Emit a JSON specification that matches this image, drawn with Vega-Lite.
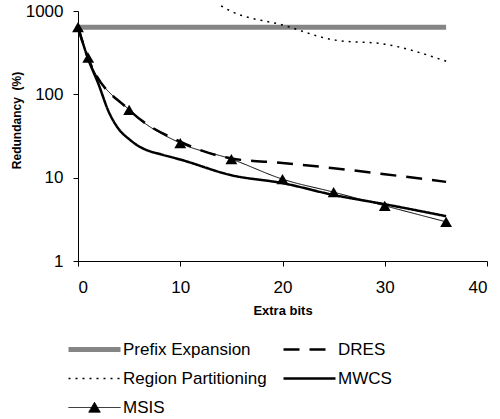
{
  "$schema": "https://vega.github.io/schema/vega-lite/v6.json",
  "autosize": {"type": "none"},
  "width": 409,
  "height": 250,
  "padding": {"left": 78, "top": 11, "right": 13, "bottom": 158},
  "background": "white",
  "data": {
    "values": [
      {"series": "Prefix Expansion", "x": 0, "y": 640},
      {"series": "Prefix Expansion", "x": 1, "y": 640},
      {"series": "Prefix Expansion", "x": 5, "y": 640},
      {"series": "Prefix Expansion", "x": 10, "y": 640},
      {"series": "Prefix Expansion", "x": 15, "y": 640},
      {"series": "Prefix Expansion", "x": 20, "y": 640},
      {"series": "Prefix Expansion", "x": 25, "y": 640},
      {"series": "Prefix Expansion", "x": 30, "y": 640},
      {"series": "Prefix Expansion", "x": 36, "y": 640},
      {"series": "Region Partitioning", "x": 14, "y": 1150},
      {"series": "Region Partitioning", "x": 15, "y": 990},
      {"series": "Region Partitioning", "x": 20, "y": 680},
      {"series": "Region Partitioning", "x": 25, "y": 450},
      {"series": "Region Partitioning", "x": 30, "y": 400},
      {"series": "Region Partitioning", "x": 36, "y": 250},
      {"series": "DRES", "x": 0, "y": 640},
      {"series": "DRES", "x": 1, "y": 270},
      {"series": "DRES", "x": 5, "y": 65},
      {"series": "DRES", "x": 10, "y": 27},
      {"series": "DRES", "x": 15, "y": 17},
      {"series": "DRES", "x": 20, "y": 15},
      {"series": "DRES", "x": 25, "y": 13},
      {"series": "DRES", "x": 30, "y": 11},
      {"series": "DRES", "x": 36, "y": 8.9},
      {"series": "MWCS", "x": 0, "y": 640},
      {"series": "MWCS", "x": 1, "y": 265},
      {"series": "MWCS", "x": 2, "y": 133},
      {"series": "MWCS", "x": 3, "y": 62},
      {"series": "MWCS", "x": 4, "y": 38},
      {"series": "MWCS", "x": 5, "y": 29},
      {"series": "MWCS", "x": 6, "y": 23.6},
      {"series": "MWCS", "x": 7, "y": 20.8},
      {"series": "MWCS", "x": 8, "y": 19.2},
      {"series": "MWCS", "x": 10, "y": 16.5},
      {"series": "MWCS", "x": 15, "y": 10.7},
      {"series": "MWCS", "x": 20, "y": 8.6},
      {"series": "MWCS", "x": 25, "y": 6.2},
      {"series": "MWCS", "x": 30, "y": 4.8},
      {"series": "MWCS", "x": 36, "y": 3.45},
      {"series": "MSIS", "x": 0, "y": 640},
      {"series": "MSIS", "x": 1, "y": 275},
      {"series": "MSIS", "x": 5, "y": 65},
      {"series": "MSIS", "x": 10, "y": 26},
      {"series": "MSIS", "x": 15, "y": 16.7},
      {"series": "MSIS", "x": 20, "y": 9.6},
      {"series": "MSIS", "x": 25, "y": 6.7},
      {"series": "MSIS", "x": 30, "y": 4.6},
      {"series": "MSIS", "x": 36, "y": 2.95}
    ]
  },
  "encoding": {
    "x": {
      "field": "x", "type": "quantitative",
      "scale": {"domain": [0, 40], "nice": false, "zero": false},
      "axis": {"values": [0, 10, 20, 30, 40], "labelPadding": 13, "title": "Extra bits", "titleFontSize": 13, "titleFontWeight": "bold", "titleY": 43, "titleBaseline": "top"}
    },
    "y": {
      "field": "y", "type": "quantitative",
      "scale": {"type": "log", "domain": [1, 1000], "nice": false},
      "axis": {"values": [1, 10, 100, 1000], "format": "d", "labelPadding": 10, "title": "Redundancy\u00a0 (%)", "titleFontSize": 12, "titleFontWeight": "bold", "titleX": -55, "titleY": 109}
    }
  },
  "layer": [
    {
      "mark": {"type": "line", "interpolate": "monotone"},
      "encoding": {
        "color": {
          "field": "series", "type": "nominal",
          "scale": {"domain": ["Prefix Expansion", "Region Partitioning", "MSIS", "DRES", "MWCS"], "range": ["#858585", "black", "black", "black", "black"]},
          "legend": {
            "orient": "none", "legendX": -12, "legendY": 330, "columns": 2, "columnPadding": 14, "rowPadding": 11,
            "clipHeight": 17, "symbolSize": 2704, "symbolType": "stroke", "labelFontSize": 17, "labelFont": "Liberation Sans",
            "labelColor": "black", "labelOffset": 0, "title": null,
            "encode": {"symbols": {"update": {
              "shape": {"signal": "datum.value === 'MSIS' ? 'M-1,0L1,0M0,-0.2L0.22,0.18L-0.22,0.18Z' : 'stroke'"},
              "fill": {"signal": "datum.value === 'MSIS' ? 'black' : 'transparent'"}
            }}}
          }
        },
        "strokeDash": {
          "field": "series", "type": "nominal",
          "scale": {"domain": ["Prefix Expansion", "Region Partitioning", "MSIS", "DRES", "MWCS"], "range": [[1, 0], [2, 5], [1, 0], [16, 10], [1, 0]]},
          "legend": {"orient": "none", "legendX": -12, "legendY": 330, "columns": 2, "columnPadding": 14, "rowPadding": 11, "clipHeight": 17, "symbolSize": 2704, "symbolType": "stroke", "labelFontSize": 17, "labelFont": "Liberation Sans", "labelColor": "black", "labelOffset": 0, "title": null}
        },
        "strokeWidth": {
          "field": "series", "type": "nominal",
          "scale": {"type": "ordinal", "domain": ["Prefix Expansion", "Region Partitioning", "MSIS", "DRES", "MWCS"], "range": [5, 1.5, 1, 2.5, 2.5]},
          "legend": {"orient": "none", "legendX": -12, "legendY": 330, "columns": 2, "columnPadding": 14, "rowPadding": 11, "clipHeight": 17, "symbolSize": 2704, "symbolType": "stroke", "labelFontSize": 17, "labelFont": "Liberation Sans", "labelColor": "black", "labelOffset": 0, "title": null}
        }
      }
    },
    {
      "transform": [{"filter": "datum.series === 'MSIS'"}],
      "mark": {"type": "point", "shape": "triangle-up", "filled": true, "color": "black", "opacity": 1, "size": 140}
    }
  ],
  "config": {
    "view": {"stroke": null},
    "axis": {
      "grid": false, "domainColor": "black", "tickColor": "black", "labelColor": "black", "titleColor": "black",
      "labelFont": "Liberation Sans", "titleFont": "Liberation Sans", "labelFontSize": 17, "tickSize": 5
    }
  }
}
